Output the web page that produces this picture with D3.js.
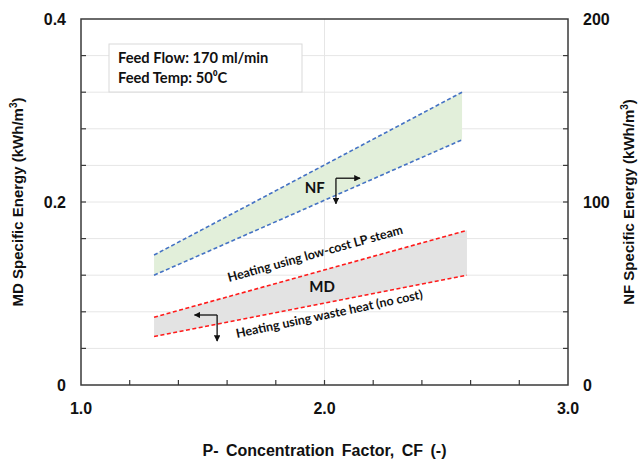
<!DOCTYPE html>
<html>
<head>
<meta charset="utf-8">
<script src="https://cdn.jsdelivr.net/npm/d3@7"></script>
<style>
  body { margin: 0; background: #fff; }
  svg { font-family: "Liberation Sans", Arial, sans-serif; }
  .ann { font-family: Lato, "Open Sans", sans-serif; font-weight: bold; }
</style>
</head>
<body>
<div id="chart"></div>
<script>
// ---------- data ----------
var nfCF = [1.3, 2.565];
var nfUpper = [71, 160];
var nfLower = [60, 134];

var mdCF = [1.3, 2.585];
var mdUpper = [0.074, 0.169];
var mdLower = [0.053, 0.120];

var xMajor = [1.0, 2.0, 3.0];
var xMinor = d3.range(0, 11).map(function (i) { return 1 + i * 0.2; });
var yLeftMajor = [0, 0.2, 0.4];
var yLeftMinor = d3.range(0, 11).map(function (i) { return i * 0.04; });
var yRightMajor = [0, 100, 200];
var yRightMinor = d3.range(0, 11).map(function (i) { return i * 20; });

var infoLines = ["Feed Flow: 170 ml/min", "Feed Temp: 50\u2070C"];

// ---------- layout ----------
var attrs = {
  width: 641,
  height: 461,
  marginLeft: 81,
  marginRight: 73,
  marginTop: 19,
  marginBottom: 76,
  axisColor: '#3a3a3a',
  gridColor: '#e6e6e6',
  blue: '#4472c4',
  red: '#ff1a1a',
  green: '#e2efda',
  gray: '#e3e3e3'
};

var svg = d3.select('#chart').append('svg')
  .attr('width', attrs.width)
  .attr('height', attrs.height);

var x0 = attrs.marginLeft, x1 = attrs.width - attrs.marginRight;
var y0 = attrs.height - attrs.marginBottom, y1 = attrs.marginTop;

var x = d3.scaleLinear().domain([1, 3]).range([x0, x1]);
var yL = d3.scaleLinear().domain([0, 0.4]).range([y0, y1]);
var yR = d3.scaleLinear().domain([0, 200]).range([y0, y1]);

// gridlines
svg.append('g').selectAll('line').data(yLeftMinor.slice(1, -1)).enter().append('line')
  .attr('x1', x0).attr('x2', x1)
  .attr('y1', function (d) { return yL(d); }).attr('y2', function (d) { return yL(d); })
  .attr('stroke', attrs.gridColor).attr('stroke-width', 1);
svg.append('line')
  .attr('x1', x(2)).attr('x2', x(2)).attr('y1', y0).attr('y2', y1)
  .attr('stroke', attrs.gridColor).attr('stroke-width', 1);

// bands
function band(cf, lo, hi, scale, fill) {
  var rows = cf.map(function (c, i) { return { c: c, lo: lo[i], hi: hi[i] }; });
  var area = d3.area()
    .x(function (d) { return x(d.c); })
    .y0(function (d) { return scale(d.lo); })
    .y1(function (d) { return scale(d.hi); });
  svg.append('path').datum(rows).attr('d', area).attr('fill', fill);
}
band(nfCF, nfLower, nfUpper, yR, attrs.green);
band(mdCF, mdLower, mdUpper, yL, attrs.gray);

function dashed(cf, vals, scale, color) {
  var line = d3.line()
    .x(function (d, i) { return x(cf[i]); })
    .y(function (d) { return scale(d); });
  svg.append('path').datum(vals).attr('d', line)
    .attr('fill', 'none').attr('stroke', color)
    .attr('stroke-width', 1.6).attr('stroke-dasharray', '4,2.5');
}
dashed(nfCF, nfUpper, yR, attrs.blue);
dashed(nfCF, nfLower, yR, attrs.blue);
dashed(mdCF, mdUpper, yL, attrs.red);
dashed(mdCF, mdLower, yL, attrs.red);

// frame
svg.append('rect')
  .attr('x', x0).attr('y', y1).attr('width', x1 - x0).attr('height', y0 - y1)
  .attr('fill', 'none').attr('stroke', attrs.axisColor).attr('stroke-width', 1.5);

// ticks (inside)
var tk = svg.append('g').attr('stroke', attrs.axisColor).attr('stroke-width', 1.2);
xMinor.slice(1, -1).forEach(function (d) {
  tk.append('line').attr('x1', x(d)).attr('x2', x(d)).attr('y1', y0).attr('y2', y0 - 5);
});
yLeftMinor.slice(1, -1).forEach(function (d) {
  tk.append('line').attr('x1', x0).attr('x2', x0 + 5).attr('y1', yL(d)).attr('y2', yL(d));
});
yRightMinor.slice(1, -1).forEach(function (d) {
  tk.append('line').attr('x1', x1).attr('x2', x1 - 5).attr('y1', yR(d)).attr('y2', yR(d));
});

// tick labels
var lab = svg.append('g').attr('font-weight', 'bold').attr('font-size', 16).attr('fill', '#111');
xMajor.forEach(function (d) {
  lab.append('text').attr('x', x(d)).attr('y', y0 + 29).attr('text-anchor', 'middle')
    .text(d3.format('.1f')(d));
});
yLeftMajor.forEach(function (d) {
  lab.append('text').attr('x', x0 - 15).attr('y', yL(d)).attr('dy', '0.35em').attr('text-anchor', 'end')
    .text(d === 0 ? '0' : d3.format('.1f')(d));
});
yRightMajor.forEach(function (d) {
  lab.append('text').attr('x', x1 + 15).attr('y', yR(d)).attr('dy', '0.35em').attr('text-anchor', 'start')
    .text(d);
});

// axis titles
var cy = (y0 + y1) / 2;
function yTitle(tx, label) {
  var t = svg.append('text')
    .attr('transform', 'translate(' + tx + ',' + cy + ') rotate(-90)')
    .attr('text-anchor', 'middle').attr('font-weight', 'bold').attr('font-size', 15).attr('fill', '#111');
  t.append('tspan').text(label + ' (kWh/m');
  t.append('tspan').attr('font-size', 10).attr('dy', -6).text('3');
  t.append('tspan').attr('dy', 6).text(')');
}
yTitle(23, 'MD Specific Energy');
yTitle(634, 'NF Specific Energy');

svg.append('text')
  .attr('x', (x0 + x1) / 2).attr('y', 456)
  .attr('text-anchor', 'middle').attr('font-weight', 'bold').attr('font-size', 16)
  .attr('word-spacing', 3).attr('fill', '#111')
  .text('P- Concentration Factor, CF (-)');

// info box
svg.append('rect')
  .attr('x', 109).attr('y', 44).attr('width', 193).attr('height', 48)
  .attr('fill', '#fff').attr('stroke', '#d9d9d9').attr('stroke-width', 1);
infoLines.forEach(function (s, i) {
  svg.append('text').attr('class', 'ann')
    .attr('x', 118).attr('y', 63 + i * 20)
    .attr('font-size', 14.7).attr('fill', '#111').text(s);
});

// band labels
function ann(cf, v, scale, rot, txt, size) {
  svg.append('text').attr('class', 'ann')
    .attr('transform', 'translate(' + x(cf) + ',' + scale(v) + ') rotate(' + rot + ')')
    .attr('font-size', size).attr('fill', '#111').text(txt);
}
ann(1.608, 0.1126, yL, -15.5, 'Heating using low-cost LP steam', 12.5);
ann(1.641, 0.0514, yL, -12, 'Heating using waste heat (no cost)', 12.5);

svg.append('text').attr('class', 'ann').attr('x', x(1.96)).attr('y', yR(107.6)).attr('dy', '0.35em')
  .attr('text-anchor', 'middle').attr('font-size', 15).attr('fill', '#111').text('NF');
svg.append('text').attr('class', 'ann').attr('x', x(1.99)).attr('y', yL(0.107)).attr('dy', '0.35em')
  .attr('text-anchor', 'middle').attr('font-size', 15).attr('fill', '#111').text('MD');

// direction arrows
var defs = svg.append('defs');
defs.append('marker').attr('id', 'ah').attr('viewBox', '0 0 10 10')
  .attr('refX', 9).attr('refY', 5).attr('markerWidth', 5).attr('markerHeight', 5)
  .attr('orient', 'auto-start-reverse')
  .append('path').attr('d', 'M0,0 L10,5 L0,10 z').attr('fill', '#111');

function elbow(cx, cyv, hx, vy, scale) {
  var px = x(cx), py = scale(cyv);
  svg.append('line').attr('x1', px).attr('y1', py).attr('x2', x(hx)).attr('y2', py)
    .attr('stroke', '#111').attr('stroke-width', 1.3).attr('marker-end', 'url(#ah)');
  svg.append('line').attr('x1', px).attr('y1', py).attr('x2', px).attr('y2', scale(vy))
    .attr('stroke', '#111').attr('stroke-width', 1.3).attr('marker-end', 'url(#ah)');
}
elbow(2.047, 113, 2.146, 99, yR);
elbow(1.559, 0.0765, 1.466, 0.048, yL);
</script>
</body>
</html>
